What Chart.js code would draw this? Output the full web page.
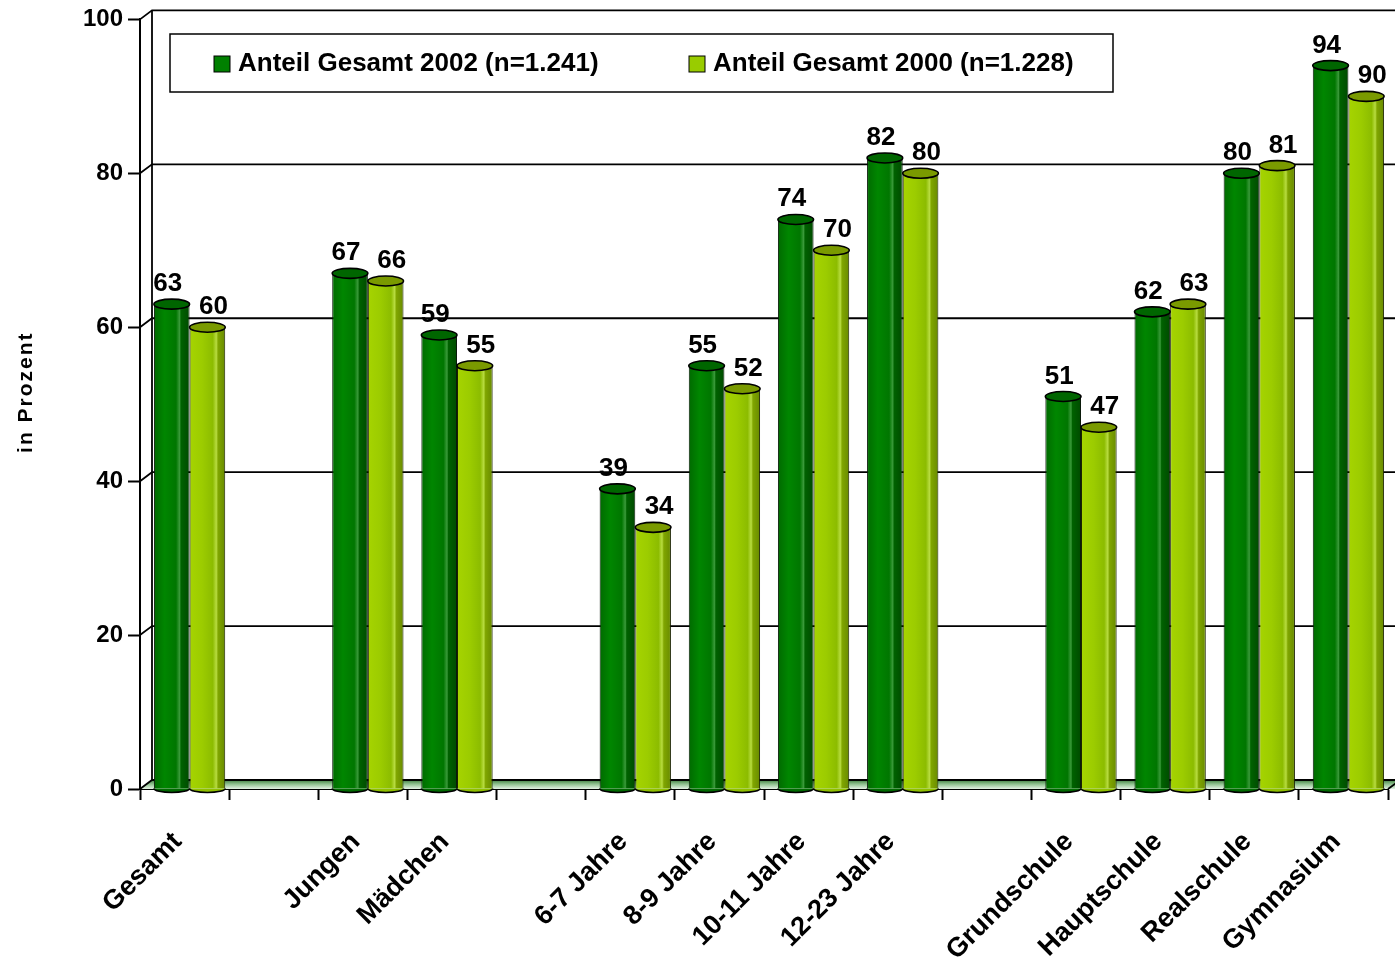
<!DOCTYPE html>
<html>
<head>
<meta charset="utf-8">
<script src="https://cdn.jsdelivr.net/npm/chart.js@4.4.1/dist/chart.umd.min.js"></script>
<style>
  html, body { margin: 0; padding: 0; background: #fff; }
  #wrap { width: 1395px; height: 965px; }
</style>
</head>
<body>
<div id="wrap"><canvas id="chart" width="1395" height="965"></canvas></div>
<script>
// Daten
const categories = ['Gesamt', '', 'Jungen', 'Mädchen', '', '6-7 Jahre', '8-9 Jahre', '10-11 Jahre', '12-23 Jahre', '', 'Grundschule', 'Hauptschule', 'Realschule', 'Gymnasium'];
const anteil2002 = [63, null, 67, 59, null, 39, 55, 74, 82, null, 51, 62, 80, 94];
const anteil2000 = [60, null, 66, 55, null, 34, 52, 70, 80, null, 47, 63, 81, 90];
const yTicks = [0, 20, 40, 60, 80, 100];
const seriesLabels = ['Anteil Gesamt 2002 (n=1.241)', 'Anteil Gesamt 2000 (n=1.228)'];
const yTitle = 'in Prozent';

const FONT = "'Liberation Sans', Arial, sans-serif";
const DX = 12, DY = 9;      // Tiefe der 3D-Rückwand
const SHIFT = 5;            // Säulen stehen etwas in der Tiefe

const darkStops = [[0, '#006a00'], [0.3, '#008600'], [0.62, '#007600'], [0.72, '#3a9a3a'], [0.76, '#006200'], [1, '#004a00']];
const lightStops = [[0, '#a6d400'], [0.35, '#9ccc00'], [0.65, '#8cbc00'], [0.75, '#b8dc40'], [0.8, '#80a600'], [1, '#688a00']];
const capColors = ['#006600', '#7a9a00'];
const legendColors = ['#008000', '#99cc00'];

// Horizontaler Verlauf pro Säule (Zylinder-Look)
function barFill(stops) {
    return function(c) {
        const chart = c.chart;
        const xs = chart.scales.x;
        if (!xs || !chart.chartArea) return stops[1][1];
        const slot = xs.width / categories.length;
        const w = slot * 0.4;
        const cx = xs.getPixelForValue(c.dataIndex);
        const left = c.datasetIndex === 0 ? cx - w : cx;
        const g = chart.ctx.createLinearGradient(left, 0, left + w, 0);
        stops.forEach(s => g.addColorStop(s[0], s[1]));
        return g;
    };
}

const threeD = {
    id: 'threeD',
    beforeDatasetsDraw(chart) {
        const ctx = chart.ctx;
        const ys = chart.scales.y;
        const area = chart.chartArea;
        const W = chart.width;
        ctx.save();
        // Boden
        const y0 = ys.getPixelForValue(0);
        const g = ctx.createLinearGradient(0, y0 - DY, 0, y0);
        g.addColorStop(0, '#3f7f3f');
        g.addColorStop(0.45, '#8fc08f');
        g.addColorStop(1, '#e4f2e4');
        ctx.fillStyle = g;
        ctx.beginPath();
        ctx.moveTo(area.left, y0);
        ctx.lineTo(area.left + DX, y0 - DY);
        ctx.lineTo(W, y0 - DY);
        ctx.lineTo(W, y0);
        ctx.closePath();
        ctx.fill();
        // Rückwand-Gitter
        ctx.strokeStyle = '#000';
        ctx.lineWidth = 1.8;
        yTicks.forEach(v => {
            const y = ys.getPixelForValue(v);
            ctx.beginPath();
            ctx.moveTo(area.left, y);
            ctx.lineTo(area.left + DX, y - DY);
            ctx.lineTo(W, y - DY);
            ctx.stroke();
        });
        ctx.beginPath();
        ctx.moveTo(area.left + DX, ys.getPixelForValue(100) - DY);
        ctx.lineTo(area.left + DX, y0 - DY);
        ctx.stroke();
        // rechte Bodenkante
        ctx.beginPath();
        ctx.moveTo(area.right, y0);
        ctx.lineTo(area.right + DX, y0 - DY);
        ctx.stroke();

        // Legende
        const box = { l: 170, t: 34, r: 1113, b: 92 };
        ctx.fillStyle = '#fff';
        ctx.fillRect(box.l, box.t, box.r - box.l, box.b - box.t);
        ctx.lineWidth = 1.5;
        ctx.strokeRect(box.l, box.t, box.r - box.l, box.b - box.t);
        const cy = (box.t + box.b) / 2 + 1;
        const offs = [44, 519];
        ctx.font = 'bold 26px ' + FONT;
        ctx.textBaseline = 'middle';
        ctx.textAlign = 'left';
        seriesLabels.forEach((t, i) => {
            const x = box.l + offs[i];
            ctx.fillStyle = legendColors[i];
            ctx.fillRect(x, cy - 8, 16, 16);
            ctx.lineWidth = 1;
            ctx.strokeRect(x, cy - 8, 16, 16);
            ctx.fillStyle = '#000';
            ctx.fillText(t, x + 24, cy);
        });
        ctx.restore();

        ctx.save();
        ctx.translate(SHIFT, 0);
    },
    afterDatasetsDraw(chart) {
        const ctx = chart.ctx;
        const series = [anteil2002, anteil2000];
        const labelOff = [-4, 6];
        ctx.lineWidth = 1.6;
        ctx.strokeStyle = '#000';
        series.forEach((vals, di) => {
            const meta = chart.getDatasetMeta(di);
            meta.data.forEach((el, i) => {
                if (vals[i] == null) return;
                const rx = el.width / 2;
                // unten
                ctx.fillStyle = di === 0 ? '#006a00' : '#90c000';
                ctx.beginPath();
                ctx.ellipse(el.x, el.base, rx, 4, 0, 0, Math.PI);
                ctx.fill();
                ctx.stroke();
                // Deckel
                ctx.fillStyle = capColors[di];
                ctx.beginPath();
                ctx.ellipse(el.x, el.y, rx, 5, 0, 0, Math.PI * 2);
                ctx.fill();
                ctx.stroke();
                // Wert
                ctx.fillStyle = '#000';
                ctx.font = 'bold 26px ' + FONT;
                ctx.textAlign = 'center';
                ctx.textBaseline = 'alphabetic';
                ctx.fillText(String(vals[i]), el.x + labelOff[di], el.y - 13);
            });
        });
        ctx.restore();
    },
    afterDraw(chart) {
        // Achsentitel mit Sperrung
        const ctx = chart.ctx;
        const ys = chart.scales.y;
        ctx.save();
        ctx.translate(26, (ys.top + ys.bottom) / 2 - 12);
        ctx.rotate(-Math.PI / 2);
        ctx.font = 'bold 21px ' + FONT;
        ctx.letterSpacing = '2px';
        ctx.fillStyle = '#000';
        ctx.textAlign = 'center';
        ctx.textBaseline = 'middle';
        ctx.fillText(yTitle, 0, 0);
        ctx.restore();
    }
};

new Chart(document.getElementById('chart').getContext('2d'), {
    type: 'bar',
    data: {
        labels: categories,
        datasets: [
            {
                label: seriesLabels[0],
                data: anteil2002,
                backgroundColor: barFill(darkStops),
                borderColor: '#0a1a0a',
                borderWidth: 1,
                borderSkipped: 'bottom',
                categoryPercentage: 0.8,
                barPercentage: 1.0
            },
            {
                label: seriesLabels[1],
                data: anteil2000,
                backgroundColor: barFill(lightStops),
                borderColor: '#1a2200',
                borderWidth: 1,
                borderSkipped: 'bottom',
                categoryPercentage: 0.8,
                barPercentage: 1.0
            }
        ]
    },
    options: {
        responsive: false,
        animation: false,
        layout: { padding: { top: 19, right: 7, left: 0, bottom: 0 } },
        plugins: {
            legend: { display: false },
            tooltip: { enabled: false }
        },
        scales: {
            x: {
                grid: {
                    offset: true,
                    drawOnChartArea: false,
                    drawTicks: true,
                    tickLength: 11,
                    tickColor: '#000',
                    tickWidth: 2
                },
                border: { display: true, color: '#000', width: 2 },
                ticks: {
                    autoSkip: false,
                    minRotation: 45,
                    maxRotation: 45,
                    padding: 26,
                    labelOffset: -7,
                    color: '#000',
                    font: { family: FONT, size: 27, weight: 'bold' }
                },
                afterFit(scale) { scale.height = 176; }
            },
            y: {
                min: 0,
                max: 100,
                afterBuildTicks(scale) { scale.ticks = yTicks.map(v => ({ value: v })); },
                grid: {
                    drawOnChartArea: false,
                    drawTicks: true,
                    tickLength: 12,
                    tickColor: '#000',
                    tickWidth: 2
                },
                border: { display: true, color: '#000', width: 2 },
                ticks: {
                    padding: 5,
                    color: '#000',
                    font: { family: FONT, size: 24, weight: 'bold' }
                },
                afterFit(scale) { scale.width = 140; }
            }
        }
    },
    plugins: [threeD]
});
</script>
</body>
</html>
